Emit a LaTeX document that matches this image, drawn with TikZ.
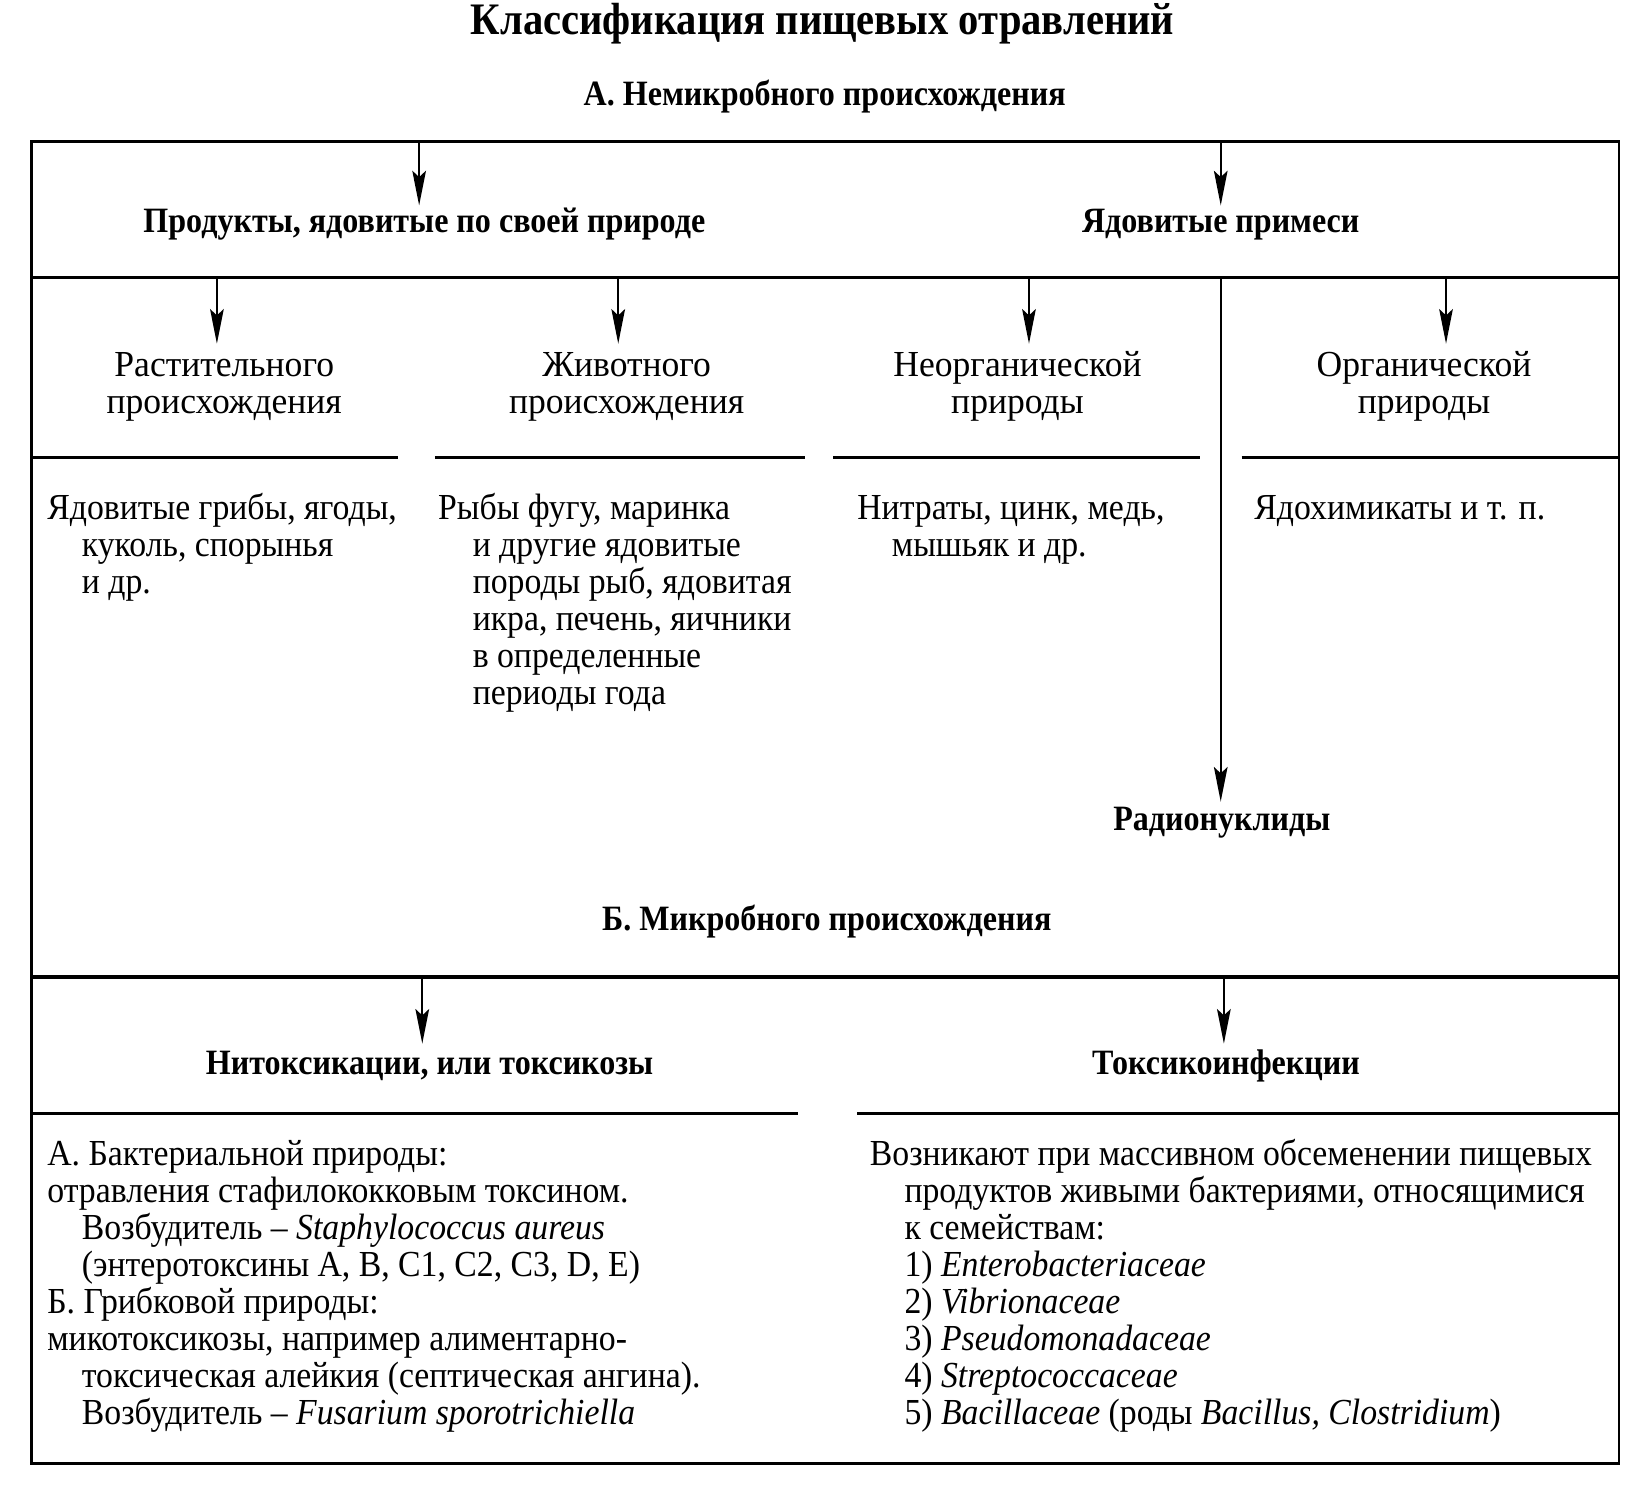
\documentclass[tikz,border=0pt]{standalone}
\usepackage{fontspec}
\setmainfont{Liberation Serif}[FakeStretch=0.92]
\newfontfamily\subfont{Liberation Serif}[FakeStretch=0.97]
\newfontfamily\hdfont{Liberation Serif}[FakeStretch=0.90]
\usetikzlibrary{arrows.meta}
\newcommand{\myblock}[1]{\vtop{\baselineskip=35.3pt\lineskiplimit=-1000pt\lineskip=0pt #1}}
\newcommand{\lineL}[1]{\hbox{#1}}
\newcommand{\lineI}[1]{\hbox{\kern33pt #1}}
\newcommand{\lineC}[1]{\hbox to 400pt{\hfil #1\hfil}}
\begin{document}
\begin{tikzpicture}[x=1pt,y=-1pt,
  frame/.style={line width=2.6pt},
  sep/.style={line width=2.8pt},
  thicksep/.style={line width=3.8pt},
  arr/.style={line width=2pt,-{Stealth[length=33pt,width=13pt,inset=6pt]}},
  ttl/.style={inner sep=0pt,anchor=base,font=\hdfont\fontsize{43}{45}\bfseries\selectfont},
  hd/.style={inner sep=0pt,anchor=base,font=\hdfont\fontsize{34}{36}\bfseries\selectfont},
  sub/.style={inner sep=0pt,anchor=base,font=\subfont\fontsize{35}{35.3}\selectfont},
  body/.style={inner sep=0pt,anchor=base west,font=\fontsize{35}{35.3}\selectfont}
]
\useasboundingbox (0,0) rectangle (1568,1417);

% titles
\node[ttl] (title) at (785,33) {Классификация пищевых отравлений};
\node[hd] (hA) at (787,101) {А. Немикробного происхождения};

% frame and separators
\draw[frame] (30,135) rectangle (1545,1397);
\draw[frame] (30,265) -- (1545,265);
\draw[sep] (30,437) -- (380,437) (415,437) -- (768,437) (795,437) -- (1145,437) (1185,437) -- (1545,437);
\draw[thicksep] (30,932) -- (1545,932);
\draw[sep] (30,1063) -- (762,1063) (818,1063) -- (1545,1063);

% level 1
\node[hd] (prod) at (405,222) {Продукты, ядовитые по своей природе};
\node[hd] (prim) at (1165,222) {Ядовитые примеси};

% level 2 headings
\node[sub] (rast) at (214,359) {\myblock{\lineC{Растительного}\lineC{происхождения}}};
\node[sub] (zhiv) at (598,359) {\myblock{\lineC{Животного}\lineC{происхождения}}};
\node[sub] (neorg) at (971,359) {\myblock{\lineC{Неорганической}\lineC{природы}}};
\node[sub] (org) at (1359,359) {\myblock{\lineC{Органической}\lineC{природы}}};

% level 2 bodies
\node[body] (rastT) at (45,496) {\myblock{\lineL{Ядовитые грибы, ягоды,}\lineI{куколь, спорынья}\lineI{и др.}}};
\node[body] (zhivT) at (418,496) {\myblock{\lineL{Рыбы фугу, маринка}\lineI{и другие ядовитые}\lineI{породы рыб, ядовитая}\lineI{икра, печень, яичники}\lineI{в определенные}\lineI{периоды года}}};
\node[body] (neorgT) at (818,496) {\myblock{\lineL{Нитраты, цинк, медь,}\lineI{мышьяк и др.}}};
\node[body] (orgT) at (1197,496) {\myblock{\lineL{Ядохимикаты и т. п.}}};

\node[hd] (radio) at (1166,793) {Радионуклиды};
\node[hd] (hB) at (789,888) {Б. Микробного происхождения};

\node[hd] (intox) at (410,1025) {Нитоксикации, или токсикозы};
\node[hd] (tinf) at (1170,1025) {Токсикоинфекции};

\node[body] (intoxT) at (45,1112) {\myblock{\lineL{А. Бактериальной природы:}\lineL{отравления стафилококковым токсином.}\lineI{Возбудитель – \textit{Staphylococcus aureus}}\lineI{(энтеротоксины A, B, C1, C2, C3, D, E)}\lineL{Б. Грибковой природы:}\lineL{микотоксикозы, например алиментарно-}\lineI{токсическая алейкия (септическая ангина).}\lineI{Возбудитель – \textit{Fusarium sporotrichiella}}}};
\node[body] (tinfT) at (830,1112) {\myblock{\lineL{Возникают при массивном обсеменении пищевых}\lineI{продуктов живыми бактериями, относящимися}\lineI{к семействам:}\lineI{1) \textit{Enterobacteriaceae}}\lineI{2) \textit{Vibrionaceae}}\lineI{3) \textit{Pseudomonadaceae}}\lineI{4) \textit{Streptococcaceae}}\lineI{5) \textit{Bacillaceae} (роды \textit{Bacillus, Clostridium})}}};

% arrow coordinates
\coordinate (s1) at (400,135);   \coordinate (e1) at (400,196);
\coordinate (s2) at (1165,135);  \coordinate (e2) at (1165,196);
\coordinate (s3) at (207,265);   \coordinate (e3) at (207,328);
\coordinate (s4) at (590,265);   \coordinate (e4) at (590,328);
\coordinate (s5) at (982,265);   \coordinate (e5) at (982,328);
\coordinate (s6) at (1380,265);  \coordinate (e6) at (1380,328);
\coordinate (s7) at (1165,265);  \coordinate (e7) at (1165,765);
\coordinate (s8) at (403,932);   \coordinate (e8) at (403,996);
\coordinate (s9) at (1168,932);  \coordinate (e9) at (1168,996);

\foreach \i in {1,...,9} {\draw[arr] (s\i) -- (e\i);}
\end{tikzpicture}
\end{document}
